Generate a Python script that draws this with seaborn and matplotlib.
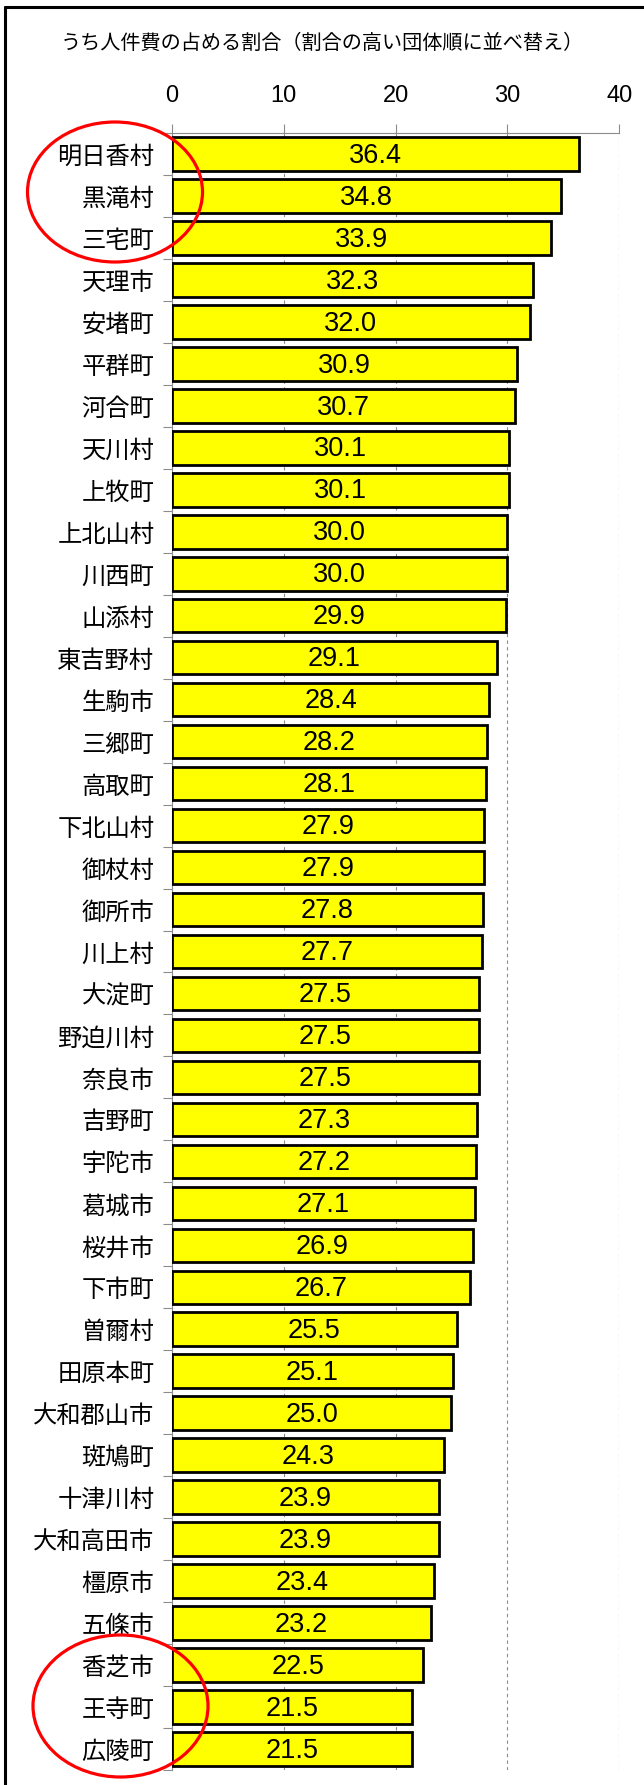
import matplotlib
matplotlib.use("Agg")
import matplotlib.pyplot as plt
import numpy as np
import pandas as pd
import seaborn as sns
from matplotlib.lines import Line2D
from matplotlib.patches import Ellipse
from matplotlib.ticker import FixedLocator

# Municipalities sorted by personnel-cost share (%)
municipalities = [
    "明日香村", "黒滝村", "三宅町", "天理市", "安堵町", "平群町", "河合町",
    "天川村", "上牧町", "上北山村", "川西町", "山添村", "東吉野村", "生駒市",
    "三郷町", "高取町", "下北山村", "御杖村", "御所市", "川上村", "大淀町",
    "野迫川村", "奈良市", "吉野町", "宇陀市", "葛城市", "桜井市", "下市町",
    "曽爾村", "田原本町", "大和郡山市", "斑鳩町", "十津川村", "大和高田市",
    "橿原市", "五條市", "香芝市", "王寺町", "広陵町",
]
shares = [
    36.4, 34.8, 33.9, 32.3, 32.0, 30.9, 30.7,
    30.1, 30.1, 30.0, 30.0, 29.9, 29.1, 28.4,
    28.2, 28.1, 27.9, 27.9, 27.8, 27.7, 27.5,
    27.5, 27.5, 27.3, 27.2, 27.1, 26.9, 26.7,
    25.5, 25.1, 25.0, 24.3, 23.9, 23.9,
    23.4, 23.2, 22.5, 21.5, 21.5,
]
x_ticks = [0, 10, 20, 30, 40]
x_tick_labels = ["0", "10", "20", "30", "40"]
title = "うち人件費の占める割合（割合の高い団体順に並べ替え）"

sns.set_theme(style="white")
plt.rcParams["font.family"] = ["Noto Sans CJK JP", "DejaVu Sans"]
plt.rcParams["text.color"] = "black"

W, H = 644, 1785
fig = plt.figure(figsize=(W / 100, H / 100), dpi=100)
x0, x1 = 171.7, 619.3
y_top, y_bot = 133, 1770
ax = fig.add_axes([x0 / W, 1 - y_bot / H, (x1 - x0) / W, (y_bot - y_top) / H])

df = pd.DataFrame({"団体": municipalities, "割合": shares})
sns.barplot(
    data=df, x="割合", y="団体", orient="h", color="#FFFF00", saturation=1,
    edgecolor="black", linewidth=2.0, width=0.8, ax=ax, zorder=3,
)

value_texts = ax.bar_label(
    ax.containers[0], labels=[f"{v:.1f}" for v in shares], label_type="center",
    fontsize=19.5, family="Liberation Sans", color="black", zorder=4,
)
for t in value_texts:
    t.xyann = (0, -1.2)

grey = "#8C8C8C"
ax.set_xlim(0, 40)
ax.xaxis.tick_top()
ax.set_xticks(x_ticks, labels=x_tick_labels, fontfamily="Liberation Sans")
ax.tick_params(axis="x", which="major", top=True, bottom=False, length=6.5,
               width=0.8, color=grey, pad=12, labelsize=17, labelcolor="black")

n = len(municipalities)
ax.yaxis.set_minor_locator(FixedLocator(np.arange(-0.5, n, 1.0)))
ax.tick_params(axis="y", which="major", left=False, length=0, pad=12.5,
               labelsize=17.5, labelcolor="black")
ax.tick_params(axis="y", which="minor", left=True, length=6.5, width=0.8,
               color=grey, direction="out")

ax.set_xlabel("")
ax.set_ylabel("")
ax.grid(axis="x", linestyle=(0, (3, 3)), color=grey, linewidth=0.8, zorder=0)
ax.set_axisbelow(True)

for side in ("right", "bottom"):
    ax.spines[side].set_visible(False)
for side in ("top", "left"):
    ax.spines[side].set_color(grey)
    ax.spines[side].set_linewidth(0.8)

fig.text(0.5, 1 - 43 / H, title, ha="center", va="center", fontsize=14.5)

# Outer frame (top and left edges)
fig.add_artist(Line2D([5 / W, 1.0], [1 - 7 / H] * 2, color="black",
                      lw=2.2, transform=fig.transFigure))
fig.add_artist(Line2D([5 / W] * 2, [0.0, 1 - 7 / H], color="black",
                      lw=2.2, transform=fig.transFigure))

# Highlight rings around the highest and lowest three
for cx, cy, ew, eh in [(115, 192, 175, 140), (120.5, 1706, 175, 142)]:
    fig.add_artist(Ellipse((cx / W, 1 - cy / H), ew / W, eh / H,
                           transform=fig.transFigure, fill=False,
                           edgecolor="#FF0000", lw=2.3, zorder=10))

fig.savefig("out.png", dpi=100)
